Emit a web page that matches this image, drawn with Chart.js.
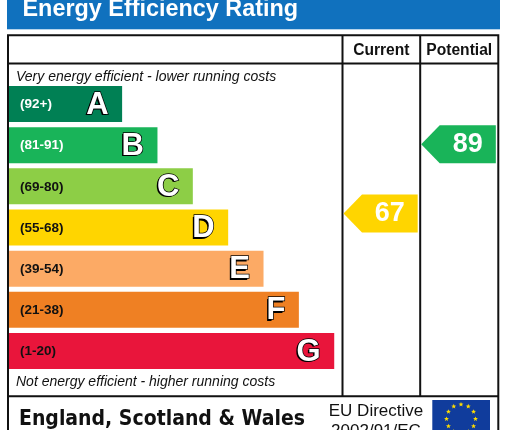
<!DOCTYPE html>
<html>
<head>
<meta charset="utf-8">
<script src="https://cdn.jsdelivr.net/npm/chart.js@4.4.1/dist/chart.umd.min.js"></script>
<style>
html, body { margin: 0; padding: 0; background: #fff; }
canvas { display: block; }
</style>
</head>
<body>
<canvas id="chart" width="509" height="430"></canvas>
<script>
// rating bands, best (top) to worst (bottom)
var bandLetters = ['A', 'B', 'C', 'D', 'E', 'F', 'G'];
var bandRanges = ['(92+)', '(81-91)', '(69-80)', '(55-68)', '(39-54)', '(21-38)', '(1-20)'];
var bandMins = [92, 81, 69, 55, 39, 21, 1];
var bandLengths = [32, 42, 52, 62, 72, 82, 92];

// current / potential ratings
var columnLabels = ['Current', 'Potential'];
var ratings = [67, 89];

// colours
var bandColors = ['#008054', '#19b459', '#8dce46', '#ffd500', '#fcaa65', '#ef8023', '#e9153b'];
var rangeTextColors = ['#fff', '#fff', '#111', '#111', '#111', '#111', '#111'];

var FONT = '"Liberation Sans", Arial, sans-serif';

// layout of the table (pixels)
var colEdges = [342.5, 420.2, 498.3];
var tableLeft = 8, tableTop = 35.2, headerLine = 63.5, footerLine = 396.2;

function bandOf(v) {
  for (var i = 0; i < bandMins.length; i++) {
    if (v >= bandMins[i]) return i;
  }
  return bandMins.length - 1;
}

function star(c, cx, cy, r) {
  c.beginPath();
  for (var k = 0; k < 10; k++) {
    var rr = k % 2 ? r * 0.42 : r;
    var a = -Math.PI / 2 + k * Math.PI / 5;
    c.lineTo(cx + rr * Math.cos(a), cy + rr * Math.sin(a));
  }
  c.closePath();
  c.fill();
}

var epcFrame = {
  id: 'epcFrame',
  beforeDraw: function(chart) {
    var c = chart.ctx;
    c.save();
    c.fillStyle = '#fff';
    c.fillRect(0, 0, chart.width, chart.height);

    // title band
    c.fillStyle = '#1071be';
    c.fillRect(7, 0, 493, 29.3);
    c.fillStyle = '#fff';
    c.font = 'bold 23.4px ' + FONT;
    c.textBaseline = 'alphabetic';
    c.textAlign = 'left';
    c.fillText('Energy Efficiency Rating', 22.5, 16.3);

    // column headings
    c.fillStyle = '#111';
    c.font = 'bold 15.6px ' + FONT;
    c.textAlign = 'center';
    for (var i = 0; i < columnLabels.length; i++) {
      c.fillText(columnLabels[i], (colEdges[i] + colEdges[i + 1]) / 2, 54.5);
    }

    // top / bottom captions
    c.textAlign = 'left';
    c.font = 'italic 14px ' + FONT;
    c.fillText('Very energy efficient - lower running costs', 16, 80.5);
    c.fillText('Not energy efficient - higher running costs', 16, 386);

    // footer
    c.font = 'bold 21.5px "DejaVu Sans", Verdana, sans-serif';
    c.fillText('England, Scotland & Wales', 19, 425, 286);
    c.font = '17px ' + FONT;
    c.textAlign = 'center';
    c.fillText('EU Directive', 376, 415.7);
    c.fillText('2002/91/EC', 376, 435.5);

    // EU flag
    c.fillStyle = '#103c9c';
    c.fillRect(432.3, 400, 57.7, 40);
    c.fillStyle = '#ffdd00';
    for (var s = 0; s < 12; s++) {
      var a = s * Math.PI / 6;
      star(c, 461 + 14.5 * Math.sin(a), 419 - 14.5 * Math.cos(a), 2.6);
    }

    // table lines
    c.strokeStyle = '#111';
    c.lineWidth = 2;
    c.beginPath();
    c.moveTo(tableLeft, 432); c.lineTo(tableLeft, tableTop);
    c.lineTo(colEdges[2], tableTop); c.lineTo(colEdges[2], 432);
    c.moveTo(tableLeft, headerLine); c.lineTo(colEdges[2], headerLine);
    c.moveTo(tableLeft, footerLine); c.lineTo(colEdges[2], footerLine);
    c.moveTo(colEdges[0], tableTop); c.lineTo(colEdges[0], footerLine);
    c.moveTo(colEdges[1], tableTop); c.lineTo(colEdges[1], footerLine);
    c.stroke();
    c.restore();
  },
  afterDatasetsDraw: function(chart) {
    var c = chart.ctx;
    var bars = chart.getDatasetMeta(0).data;
    c.save();
    c.textBaseline = 'middle';
    for (var i = 0; i < bars.length; i++) {
      var b = bars[i];
      // range label
      c.textAlign = 'left';
      c.font = 'bold 13.5px ' + FONT;
      c.fillStyle = rangeTextColors[i];
      c.fillText(bandRanges[i], 20, b.y + 0.5);
      // band letter, white with dark edge
      c.textAlign = 'right';
      c.font = 'bold 31px ' + FONT;
      var lx = b.x - 13.5, ly = b.y + 1;
      c.fillStyle = '#000';
      c.fillText(bandLetters[i], lx - 1.5, ly + 1.5);
      c.lineWidth = 1.5;
      c.strokeStyle = '#000';
      c.strokeText(bandLetters[i], lx, ly);
      c.fillStyle = '#fff';
      c.fillText(bandLetters[i], lx, ly);
    }

    // rating arrows
    var ys = chart.scales.yScore;
    for (var j = 0; j < ratings.length; j++) {
      var cy = ys.getPixelForValue(ratings[j]);
      var x0 = colEdges[j] + 1, x1 = colEdges[j + 1] - 2.5, h = 19;
      c.fillStyle = bandColors[bandOf(ratings[j])];
      c.beginPath();
      c.moveTo(x0, cy);
      c.lineTo(x0 + 18.5, cy - h);
      c.lineTo(x1, cy - h);
      c.lineTo(x1, cy + h);
      c.lineTo(x0 + 18.5, cy + h);
      c.closePath();
      c.fill();
      c.fillStyle = '#fff';
      c.textAlign = 'center';
      c.font = 'bold 27px ' + FONT;
      c.fillText(String(ratings[j]), (x0 + 18.5 + x1) / 2, cy + 0.5);
    }
    c.restore();
  }
};

new Chart(document.getElementById('chart'), {
  type: 'bar',
  data: {
    labels: bandLetters,
    datasets: [{
      data: bandLengths,
      backgroundColor: bandColors,
      borderWidth: 0,
      barPercentage: 0.874,
      categoryPercentage: 1
    }]
  },
  options: {
    indexAxis: 'y',
    responsive: false,
    animation: false,
    events: [],
    layout: { padding: { left: 9, right: 167, top: 83.4, bottom: 58.4 } },
    scales: {
      x: { type: 'linear', min: 0, max: 94.2, display: false },
      y: { type: 'category', display: false },
      yScore: { type: 'linear', position: 'right', min: 21.84, max: 103.23, display: false }
    },
    plugins: { legend: { display: false }, tooltip: { enabled: false } }
  },
  plugins: [epcFrame]
});
</script>
</body>
</html>
